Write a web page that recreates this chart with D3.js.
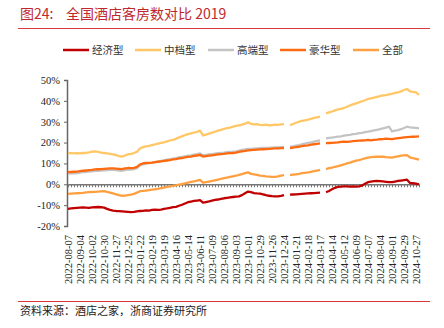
<!DOCTYPE html>
<html>
<head>
<meta charset="utf-8">
<script src="https://cdn.jsdelivr.net/npm/d3@7"></script>
<style>
  body { margin: 0; background: #fff; }
  svg { display: block; }
</style>
</head>
<body>
<div id="chart"></div>
<script>
// weekly data, 2022-08-07 onward (null = no data that week)
const startDate = "2022-08-07";
const seriesNames = ["经济型", "中档型", "高端型", "豪华型", "全部"];
const seriesColors = ["#c00000", "#ffc766", "#c4c4c4", "#ff6a10", "#ffa040"];

const economy = [
  -11.8, -11.6, -11.4, -11.3, -11.2, -11.1, -11.2, -11.3, -11.1, -11.0, -10.9, -11.0,
  -11.2, -11.8, -12.3, -12.6, -12.8, -12.9, -13.0, -13.1, -13.2, -13.3, -13.2, -13.0,
  -12.8, -12.7, -12.5, -12.6, -12.3, -12.2, -12.3, -12.1, -11.8, -11.6, -11.3, -11.0,
  -10.8, -10.3, -9.8, -9.2, -8.6, -8.3, -8.0, -7.8, -7.6, -8.8, -8.5, -8.2,
  -7.8, -7.5, -7.3, -7.0, -6.7, -6.5, -6.3, -6.1, -5.9, -5.8, -5.2, -4.3,
  -3.5, -3.8, -4.2, -4.4, -4.5, -4.8, -5.2, -5.5, -5.7, -5.8, -5.8, -5.6,
  -5.2, null, -5.0, -4.9, -4.8, -4.7, -4.6, -4.5, -4.4, -4.3, -4.2, -4.1,
  -4.0, null, -3.8, -3.2, -2.4, -1.7, -1.2, -1.1, -1.0, -1.0, -1.1, -1.0,
  -1.1, -1.0, -0.6, 0.2, 1.0, 1.3, 1.5, 1.6, 1.5, 1.4, 1.2, 1.0,
  1.0, 1.3, 1.6, 1.8, 2.0, 2.2, 0.6, 0.5, 0.3, 0.0
];
const midscale = [
  15.0, 14.9, 14.8, 14.9, 14.8, 15.0, 15.1, 15.3, 15.6, 15.8, 15.5, 15.2,
  15.0, 14.8, 14.6, 14.3, 14.0, 13.5, 13.3, 13.8, 14.3, 14.6, 15.0, 15.6,
  17.2, 17.8, 18.2, 18.4, 18.8, 19.1, 19.5, 19.8, 20.1, 20.6, 21.0, 21.3,
  21.8, 22.5, 23.0, 23.6, 24.0, 24.4, 24.8, 25.1, 25.7, 23.4, 23.8, 24.3,
  24.8, 25.2, 25.7, 26.1, 26.6, 26.9, 27.2, 27.6, 28.0, 28.3, 28.6, 29.1,
  29.7, 29.0, 28.7, 28.8, 28.5, 28.4, 28.6, 28.3, 28.4, 28.6, 28.5, 28.7,
  28.8, null, 28.4, 28.9, 29.5, 30.0, 30.4, 30.7, 31.0, 31.4, 31.8, 32.1,
  32.4, null, 34.0, 34.5, 34.9, 35.4, 35.9, 36.2, 36.6, 37.2, 37.8, 38.3,
  38.8, 39.3, 39.8, 40.3, 40.9, 41.2, 41.5, 41.9, 42.3, 42.6, 42.8, 43.1,
  43.4, 43.8, 44.1, 44.5, 45.2, 45.7, 44.6, 44.3, 44.1, 42.8
];
const upscale = [
  5.1, 5.2, 5.3, 5.4, 5.6, 5.8, 5.9, 6.1, 6.2, 6.4, 6.5, 6.6,
  6.7, 6.8, 6.9, 6.9, 6.8, 6.6, 6.5, 6.8, 7.1, 7.0, 7.3, 7.7,
  9.0, 9.6, 9.9, 10.1, 10.3, 10.6, 10.9, 11.2, 11.5, 11.8, 12.0, 12.3,
  12.6, 12.9, 13.1, 13.4, 13.7, 13.9, 14.2, 14.5, 14.8, 13.9, 14.1, 14.3,
  14.5, 14.7, 14.9, 15.1, 15.2, 15.4, 15.5, 15.6, 15.8, 16.1, 16.5, 16.7,
  17.0, 17.0, 17.1, 17.2, 17.3, 17.4, 17.5, 17.5, 17.6, 17.7, 17.7, 17.8,
  17.9, null, 18.0, 18.2, 18.5, 18.8, 19.2, 19.5, 19.8, 20.1, 20.5, 20.8,
  21.0, null, 22.0, 22.2, 22.4, 22.6, 22.8, 23.0, 23.3, 23.6, 23.7, 24.0,
  24.2, 24.5, 24.7, 25.0, 25.2, 25.5, 25.8, 26.1, 26.4, 26.8, 27.2, 27.6,
  25.4, 25.7, 26.0, 26.4, 27.0, 27.6, 27.3, 27.2, 27.0, 26.8
];
const luxury = [
  5.8, 5.9, 6.0, 6.1, 6.3, 6.5, 6.6, 6.8, 6.9, 7.1, 7.2, 7.3,
  7.4, 7.5, 7.6, 7.6, 7.5, 7.4, 7.3, 7.6, 7.8, 7.7, 7.9, 8.3,
  9.5, 10.0, 10.2, 10.3, 10.4, 10.6, 10.8, 11.0, 11.2, 11.4, 11.6, 11.9,
  12.1, 12.4, 12.6, 12.9, 13.1, 13.3, 13.6, 13.8, 14.1, 13.3, 13.5, 13.7,
  13.9, 14.1, 14.3, 14.5, 14.6, 14.8, 14.9, 15.0, 15.2, 15.5, 15.8, 16.0,
  16.3, 16.4, 16.5, 16.6, 16.7, 16.8, 16.9, 17.0, 17.1, 17.2, 17.2, 17.3,
  17.4, null, 17.4, 17.6, 17.8, 18.0, 18.3, 18.5, 18.7, 19.0, 19.2, 19.4,
  19.6, null, 19.7, 19.8, 19.9, 20.0, 20.1, 20.3, 20.4, 20.3, 20.5, 20.7,
  20.8, 20.9, 21.0, 21.1, 21.3, 21.1, 21.3, 21.4, 21.6, 21.7, 21.9, 21.8,
  21.6, 21.9, 22.1, 22.3, 22.5, 22.6, 22.7, 22.8, 22.9, 23.0
];
const overall = [
  -4.6, -4.5, -4.4, -4.3, -4.2, -4.1, -3.9, -3.8, -3.7, -3.6, -3.5, -3.4,
  -3.3, -3.6, -4.0, -4.4, -4.8, -5.2, -5.5, -5.4, -5.2, -5.0, -4.6, -4.0,
  -3.3, -3.2, -3.0, -2.8, -2.6, -2.4, -2.2, -1.9, -1.6, -1.3, -1.0, -0.8,
  -0.5, -0.2, 0.1, 0.4, 0.8, 1.1, 1.4, 1.8, 2.1, 0.8, 1.0, 1.3,
  1.6, 1.9, 2.2, 2.6, 2.9, 3.2, 3.5, 3.8, 4.1, 4.5, 4.9, 5.3,
  5.7, 5.0, 4.8, 4.5, 4.2, 4.0, 3.8, 3.7, 3.6, 3.6, 3.8, 4.1,
  4.4, null, 4.4, 4.6, 4.8, 5.0, 5.3, 5.5, 5.7, 6.0, 6.3, 6.6,
  6.9, null, 7.3, 7.7, 8.0, 8.4, 8.7, 9.1, 9.5, 10.0, 10.4, 10.9,
  11.3, 11.6, 12.0, 12.4, 12.8, 13.0, 13.1, 13.2, 13.3, 13.2, 13.0, 12.9,
  12.8, 13.1, 13.4, 13.7, 13.9, 14.0, 12.9, 12.5, 12.2, 11.8
];

const tickLabels = [
  "2022-08-07", "2022-09-04", "2022-10-02", "2022-10-30", "2022-11-27", "2022-12-25",
  "2023-01-22", "2023-02-19", "2023-03-19", "2023-04-16", "2023-05-14", "2023-06-11",
  "2023-07-09", "2023-08-06", "2023-09-03", "2023-10-01", "2023-10-29", "2023-11-26",
  "2023-12-24", "2024-01-21", "2024-02-18", "2024-03-17", "2024-04-14", "2024-05-12",
  "2024-06-09", "2024-07-07", "2024-08-04", "2024-09-01", "2024-09-29", "2024-10-27"
];
const yTicks = [-20, -10, 0, 10, 20, 30, 40, 50];

const allSeries = [economy, midscale, upscale, luxury, overall];

const W = 444, H = 328;
const cnFont = "'Noto Sans CJK SC', sans-serif";
const numFont = "'Liberation Serif', 'Times New Roman', serif";

const parse = d3.utcParse("%Y-%m-%d");
const t0 = parse(startDate);
const weeks = d3.range(economy.length).map(i => d3.utcDay.offset(t0, 7 * i));

const x = d3.scaleUtc()
  .domain([weeks[0], weeks[weeks.length - 1]])
  .range([68, 419]);
const y = d3.scaleLinear().domain([-20, 50]).range([226, 80]);

const svg = d3.select('#chart').append('svg')
  .attr('width', W)
  .attr('height', H);

// title + rules
svg.append('text')
  .attr('x', 20).attr('y', 19)
  .attr('fill', '#c0282d')
  .style('font-family', cnFont)
  .style('font-size', '14px')
  .text('图24:');
svg.append('text')
  .attr('x', 66).attr('y', 19)
  .attr('fill', '#c0282d')
  .style('font-family', cnFont)
  .style('font-size', '14px')
  .text('全国酒店客房数对比 2019');
svg.append('line')
  .attr('x1', 18).attr('x2', 430).attr('y1', 28.5).attr('y2', 28.5)
  .attr('stroke', '#d9383c').attr('stroke-width', 1.2);
svg.append('line')
  .attr('x1', 18).attr('x2', 430).attr('y1', 301.5).attr('y2', 301.5)
  .attr('stroke', '#d9383c').attr('stroke-width', 1.2);
svg.append('text')
  .attr('x', 20).attr('y', 315)
  .attr('fill', '#222')
  .style('font-family', cnFont)
  .style('font-size', '11px')
  .text('资料来源：酒店之家，浙商证券研究所');

// legend
const legendX = [63, 135, 208, 280, 353];
const legend = svg.append('g').attr('class', 'legend');
const entries = legend.selectAll('.legend-entry')
  .data(seriesNames)
  .enter()
  .append('g')
  .attr('class', 'legend-entry')
  .attr('transform', (d, i) => `translate(${legendX[i]},50)`);
entries.append('line')
  .attr('x1', 0).attr('x2', 26).attr('y1', 0).attr('y2', 0)
  .attr('stroke', (d, i) => seriesColors[i])
  .attr('stroke-width', 2.5);
entries.append('text')
  .attr('x', 29).attr('y', 4)
  .attr('fill', '#333')
  .style('font-family', cnFont)
  .style('font-size', '10.5px')
  .text(d => d);

// y axis
const yAxis = svg.append('g')
  .attr('transform', 'translate(67,0)')
  .call(d3.axisLeft(y).tickValues(yTicks).tickSize(3).tickFormat(d => d + '%'));
yAxis.select('.domain').attr('stroke', '#666').attr('stroke-width', 1.5);
yAxis.selectAll('.tick line').attr('stroke', '#666');
yAxis.selectAll('.tick text')
  .attr('x', -7)
  .attr('fill', '#222')
  .style('font-family', numFont)
  .style('font-size', '10.5px');

// x axis on 0%
const xAxis = svg.append('g')
  .attr('transform', `translate(0,${y(0)})`)
  .call(d3.axisBottom(x).tickValues(weeks).tickSize(3).tickSizeOuter(0).tickFormat(''));
xAxis.select('.domain').attr('stroke', '#777').attr('stroke-width', 1.5);
xAxis.selectAll('.tick line').attr('stroke', '#777');

// x labels at the bottom, rotated
svg.append('g')
  .selectAll('text')
  .data(tickLabels)
  .enter()
  .append('text')
  .attr('transform', d => `translate(${x(parse(d)) + 3.5},235) rotate(-90)`)
  .attr('text-anchor', 'end')
  .attr('fill', '#222')
  .style('font-family', numFont)
  .style('font-size', '10.5px')
  .text(d => d);

// lines
const line = d3.line()
  .defined(d => d != null)
  .x((d, i) => x(weeks[i]))
  .y(d => y(d));

svg.append('g')
  .selectAll('path')
  .data(allSeries)
  .enter()
  .append('path')
  .attr('d', line)
  .attr('fill', 'none')
  .attr('stroke', (d, i) => seriesColors[i])
  .attr('stroke-width', 2.3)
  .attr('stroke-linejoin', 'round');
</script>
</body>
</html>
